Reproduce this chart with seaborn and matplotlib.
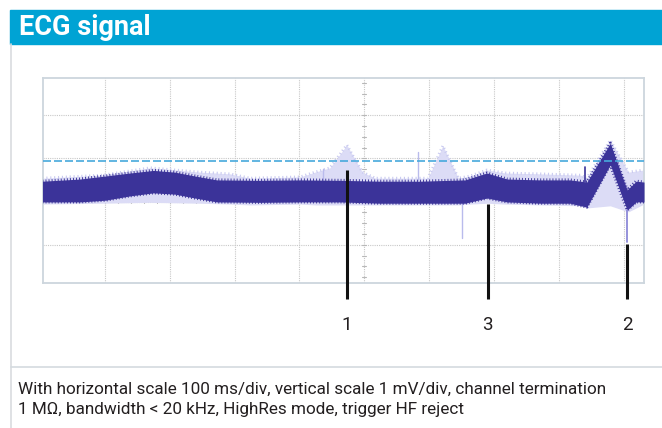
import matplotlib
matplotlib.use("Agg")
import matplotlib.pyplot as plt
import matplotlib.patches as mpatches
import matplotlib.lines as mlines
import numpy as np
import pandas as pd
import seaborn as sns

# ---------------- data (ms, mV) ----------------
band_t = [-496, -438, -399, -361, -325, -292, -261, -227, -161, -99, -37, 24, 86,
          155, 189, 220, 271, 317, 343, 379, 405, 419, 431]
band_top = [0.47, 0.52, 0.59, 0.66, 0.72, 0.68, 0.59, 0.50, 0.49, 0.50, 0.49, 0.47, 0.47,
            0.50, 0.66, 0.52, 0.50, 0.50, 0.45, 1.35, 0.27, 0.47, 0.45]
band_bot = [-0.01, -0.01, 0.03, 0.13, 0.20, 0.17, 0.08, -0.01, -0.02, -0.01, -0.01, -0.04, -0.04,
            -0.04, 0.08, -0.01, -0.04, -0.04, -0.13, 0.85, -0.20, -0.01, -0.01]

ghost_t = [-496, -404, -330, -253, -207, -176, -99, -76, -53, -27, -3, 17, 98,
           121, 145, 163, 189, 217, 271, 333, 343, 379, 407, 431]
ghost_top = [0.54, 0.61, 0.78, 0.68, 0.64, 0.54, 0.57, 0.68, 0.78, 1.31, 0.68, 0.54, 0.54,
             1.29, 0.54, 0.59, 0.73, 0.66, 0.64, 0.61, 0.54, 1.42, 0.68, 0.73]
ghost_bot = [-0.06, -0.04, -0.02, -0.04, -0.06, -0.08, -0.06, -0.08, -0.08, -0.08, -0.08, -0.08, -0.08,
             -0.08, -0.08, -0.06, -0.04, -0.06, -0.08, -0.10, -0.15, -0.10, -0.24, -0.06]

# short spikes: time, start level, end level
light_spike_t = [83, 151, -63]
light_spike_from = [0.49, -0.04, 0.50]
light_spike_to = [1.15, -0.85, 0.75]
dark_spike_t = [340]
dark_spike_from = [0.45]
dark_spike_to = [0.80]
mid_spike_t = [405]
mid_spike_from = [-0.20]
mid_spike_to = [-0.94]

trigger_level = 0.944

marker_labels = ["1", "3", "2"]
marker_t = [-26.5, 190, 405]
marker_top = [0.73, -0.06, -0.98]

title = "ECG signal"
caption = ("With horizontal scale 100 ms/div, vertical scale 1 mV/div, channel termination\n"
           "1 M\u03a9, bandwidth < 20 kHz, HighRes mode, trigger HF reject")

# ---------------- style ----------------
sns.set_theme(style="white")
plt.rcParams['font.family'] = ['Roboto', 'DejaVu Sans']

W, H = 662, 428
fig = plt.figure(figsize=(W / 100, H / 100), dpi=100)
fig.patch.set_facecolor("white")

def fx(px):
    return px / W

def fy(py):
    return 1 - py / H

DARK = "#3b3399"

# header bar
fig.patches.append(mpatches.Rectangle((fx(10), fy(44)), fx(662) - fx(10), fy(10) - fy(44),
                                      transform=fig.transFigure, color="#00A3D4", zorder=0))
fig.text(fx(19), fy(27.5), title, color="white", fontsize=19.5, fontweight="bold",
         va="center", ha="left")
# panel borders
fig.lines.append(mlines.Line2D([fx(11), fx(11)], [fy(44), fy(428)], transform=fig.transFigure,
                               color="#d9dcdf", lw=1.2))
fig.lines.append(mlines.Line2D([fx(11), fx(662)], [fy(367), fy(367)], transform=fig.transFigure,
                               color="#d4dadf", lw=1.2))
fig.text(fx(18), fy(399.5), caption, fontsize=12.3, color="#231f20", va="center", ha="left",
         linespacing=1.45)

# plot area
ax = fig.add_axes([fx(42.5), fy(282.5), fx(644) - fx(42.5), fy(78.3) - fy(282.5)])
ax.set_xlim(-496, 431)
ax.set_ylim(-1.875, 2.852)
ax.set_facecolor("white")
for s in ax.spines.values():
    s.set_color("#cdd6dd")
    s.set_linewidth(1.3)
ax.set_xticks([])
ax.set_yticks([])

grid_kw = dict(color="#c8c8c8", lw=0.8, ls=(0, (1, 1)), zorder=1)
for gx in range(-400, 401, 100):
    ax.axvline(gx, **grid_kw)
for gy in [-1, 0, 1, 2]:
    ax.axhline(gy, **grid_kw)
# centre-line minor ticks
for ty in np.arange(-1.75, 2.9, 0.25):
    ax.plot([-3, 3], [ty, ty], color="#b8b8b8", lw=0.8, zorder=1)
for tx in np.arange(-480, 431, 20):
    ax.plot([tx, tx], [-0.04, 0.04], color="#b8b8b8", lw=0.8, zorder=1)

# ghost (persistence) traces
ax.fill_between(ghost_t, ghost_bot, ghost_top, color="#dcdcf6", lw=0, zorder=2)
ghost = pd.DataFrame({"t": ghost_t, "top": ghost_top, "bot": ghost_bot})
sns.lineplot(data=ghost, x="t", y="top", ax=ax, color="#c9caf0", lw=2.0, zorder=2)
ax.lines[-1].set_dashes((0.4, 1.0))
for t, a, b in zip(light_spike_t, light_spike_from, light_spike_to):
    ax.plot([t, t], [a, b], color="#b9bbec", lw=1.0, zorder=2)

# dark live trace
band = pd.DataFrame({"t": band_t, "top": band_top, "bot": band_bot})
ax.fill_between(band["t"], band["bot"], band["top"], color=DARK, lw=0, zorder=3)
for col in ["top", "bot"]:
    sns.lineplot(data=band, x="t", y=col, ax=ax, color=DARK, lw=2.2, zorder=3)
    ax.lines[-1].set_dashes((0.3, 0.7))
for t, a, b in zip(dark_spike_t, dark_spike_from, dark_spike_to):
    ax.plot([t, t], [a, b], color=DARK, lw=1.2, zorder=3)
for t, a, b in zip(mid_spike_t, mid_spike_from, mid_spike_to):
    ax.plot([t, t], [a, b], color="#8c89d8", lw=1.3, zorder=3)

# trigger level
ax.axhline(trigger_level, color="#47a9dc", lw=1.2, dashes=(4.8, 1.8), zorder=4)
ax.set_xlabel("")
ax.set_ylabel("")

# markers
for lab, t, top in zip(marker_labels, marker_t, marker_top):
    ax.plot([t, t], [top, -2.257], color="#111111", lw=2.2, clip_on=False, zorder=5,
            solid_capstyle="butt")
    ax.text(t, -2.86, lab, ha="center", va="center", fontsize=13.5, color="#231f20",
            clip_on=False)

fig.savefig("out.png", dpi=100)
